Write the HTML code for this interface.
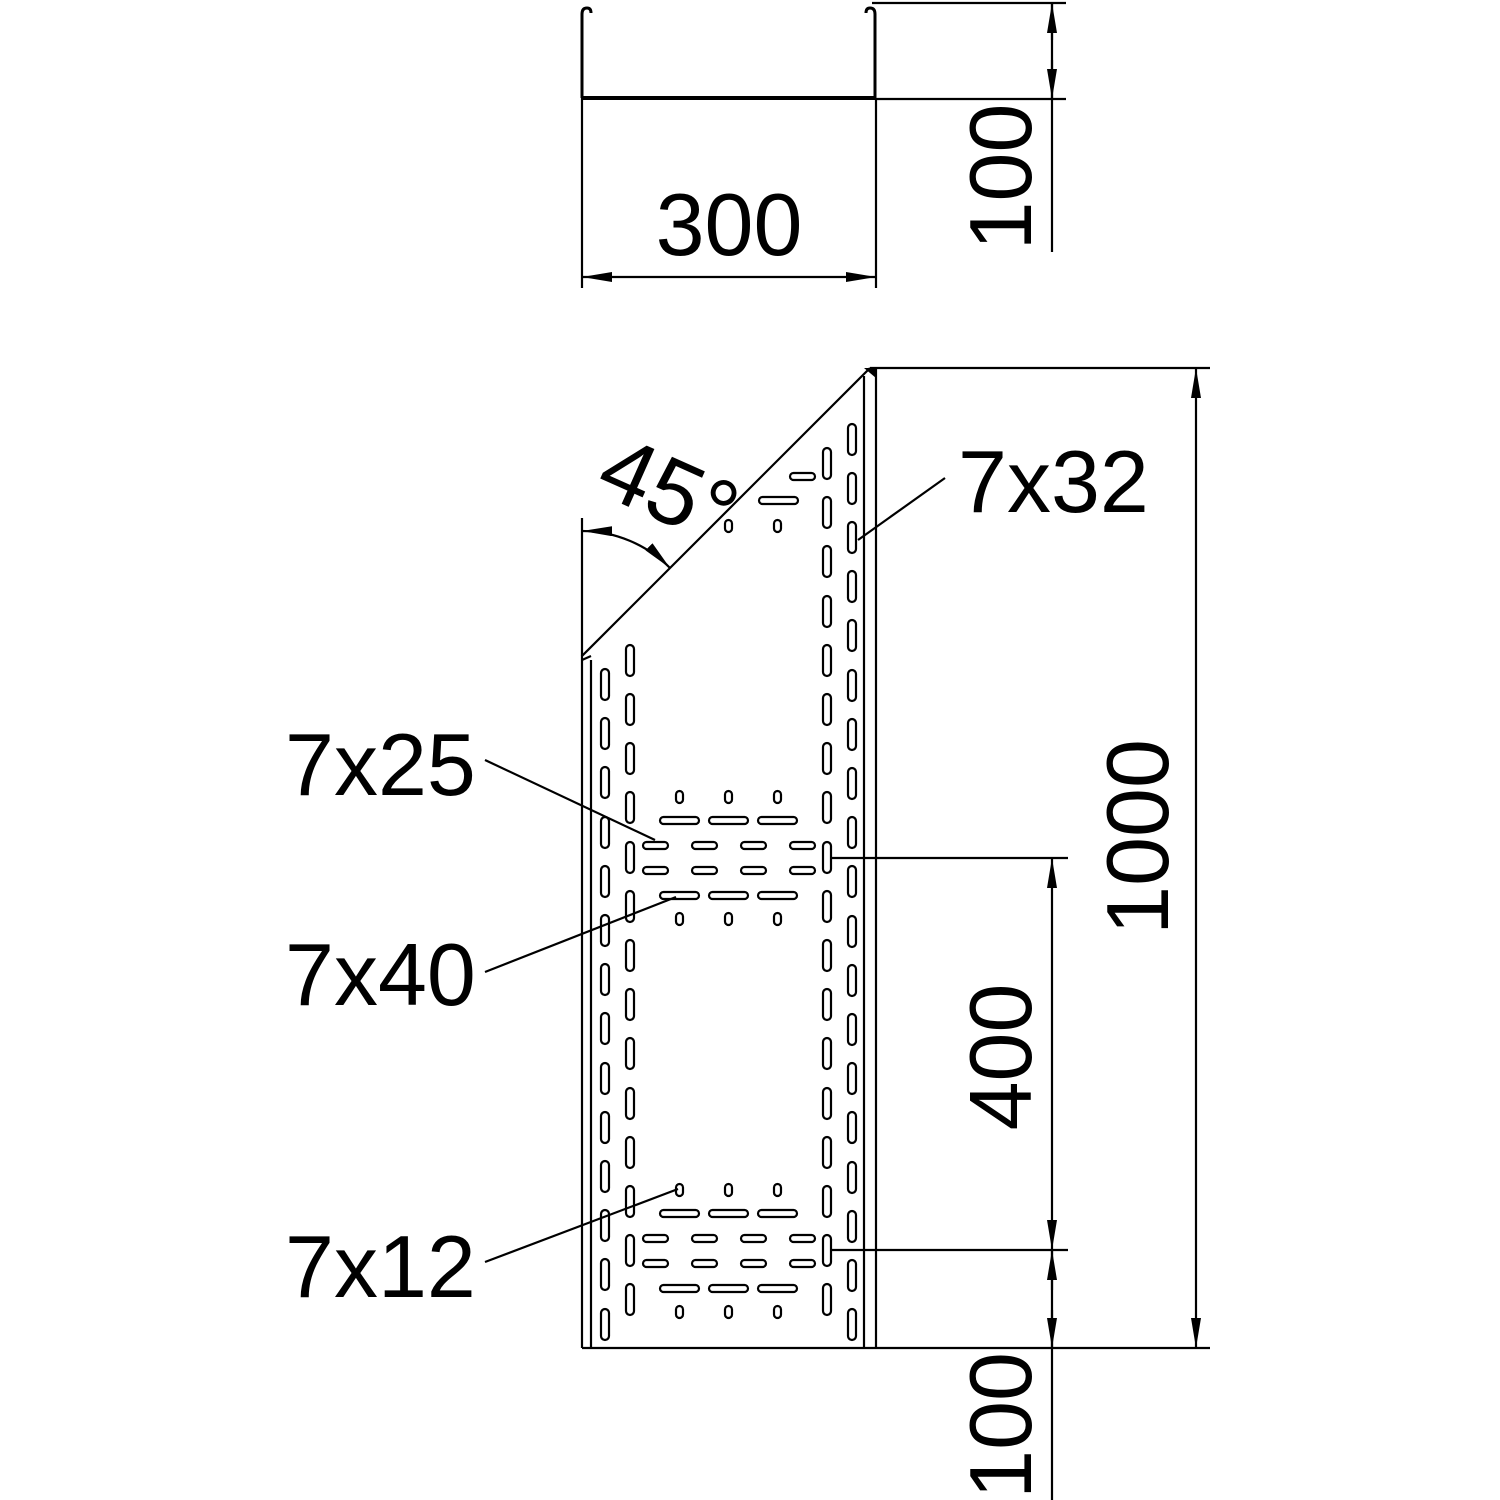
<!DOCTYPE html>
<html><head><meta charset="utf-8"><style>html,body{margin:0;padding:0;background:#fff}svg{display:block}</style></head>
<body>
<svg width="1500" height="1500" viewBox="0 0 1500 1500" xmlns="http://www.w3.org/2000/svg" font-family="Liberation Sans, sans-serif" font-size="88">
<defs>
<marker id="a" viewBox="0 0 30 10" refX="30" refY="5" markerWidth="30" markerHeight="10" markerUnits="userSpaceOnUse" orient="auto-start-reverse"><path d="M0,0 L30,5 L0,10 Z" fill="#000"/></marker>
<g id="grp">
<rect x="676" y="-67" width="7" height="12" rx="3.5"/><rect x="725" y="-67" width="7" height="12" rx="3.5"/><rect x="774" y="-67" width="7" height="12" rx="3.5"/>
<rect x="660" y="-41" width="39" height="7" rx="3.5"/><rect x="709" y="-41" width="39" height="7" rx="3.5"/><rect x="758" y="-41" width="39" height="7" rx="3.5"/>
<rect x="643" y="-16" width="25" height="7" rx="3.5"/><rect x="692" y="-16" width="25" height="7" rx="3.5"/><rect x="741" y="-16" width="25" height="7" rx="3.5"/><rect x="790" y="-16" width="25" height="7" rx="3.5"/>
<rect x="643" y="9" width="25" height="7" rx="3.5"/><rect x="692" y="9" width="25" height="7" rx="3.5"/><rect x="741" y="9" width="25" height="7" rx="3.5"/><rect x="790" y="9" width="25" height="7" rx="3.5"/>
<rect x="660" y="34" width="39" height="7" rx="3.5"/><rect x="709" y="34" width="39" height="7" rx="3.5"/><rect x="758" y="34" width="39" height="7" rx="3.5"/>
<rect x="676" y="55" width="7" height="12" rx="3.5"/><rect x="725" y="55" width="7" height="12" rx="3.5"/><rect x="774" y="55" width="7" height="12" rx="3.5"/>
</g>
</defs>
<g fill="none" stroke="#000" stroke-width="2.2">
<path d="M582,98 V14 Q582,8 587,8 Q591,8 591,13" stroke-width="3"/>
<path d="M875,98 V14 Q875,8 870,8 Q866,8 866,13" stroke-width="3"/>
<line x1="582" y1="98" x2="876" y2="98" stroke-width="4"/>
<line x1="582" y1="98" x2="582" y2="288"/>
<line x1="876" y1="98" x2="876" y2="288"/>
<line x1="582" y1="277" x2="876" y2="277" marker-start="url(#a)" marker-end="url(#a)"/>
<line x1="872" y1="3" x2="1066" y2="3"/>
<line x1="876" y1="99" x2="1066" y2="99"/>
<line x1="1052" y1="3" x2="1052" y2="252"/>
<line x1="1052" y1="40" x2="1052" y2="3" marker-end="url(#a)"/>
<line x1="1052" y1="60" x2="1052" y2="99" marker-end="url(#a)"/>

<polyline points="582,1348 582,656 870,368"/>
<line x1="591" y1="660" x2="591" y2="1348"/>
<line x1="582" y1="660" x2="591" y2="656"/>
<line x1="864" y1="376" x2="864" y2="1348"/>
<line x1="876" y1="368" x2="876" y2="1348"/>
<line x1="870" y1="368" x2="1210" y2="368"/>
<line x1="582" y1="1348" x2="1210" y2="1348"/>
<line x1="582" y1="518" x2="582" y2="656"/>
<path d="M582,531 A125,125 0 0 1 670,568" marker-start="url(#a)" marker-end="url(#a)"/>
<line x1="1196" y1="368" x2="1196" y2="1348" marker-start="url(#a)" marker-end="url(#a)"/>
<line x1="830" y1="858" x2="1068" y2="858"/>
<line x1="830" y1="1250" x2="1068" y2="1250"/>
<line x1="1052" y1="858" x2="1052" y2="1250" marker-start="url(#a)" marker-end="url(#a)"/>
<line x1="1052" y1="1250" x2="1052" y2="1500"/>
<line x1="1052" y1="1290" x2="1052" y2="1250" marker-end="url(#a)"/>
<line x1="1052" y1="1310" x2="1052" y2="1348" marker-end="url(#a)"/>
<line x1="945" y1="478" x2="858" y2="540"/>
<line x1="485" y1="760" x2="655" y2="840"/>
<line x1="485" y1="972" x2="676" y2="897"/>
<line x1="485" y1="1262" x2="678" y2="1189"/>
</g>
<path d="M864,368 L876,368 L876,378 Z" fill="#000"/>

<g fill="none" stroke="#000" stroke-width="2.2">
<g>
<rect x="601" y="669" width="8" height="31" rx="4"/><rect x="601" y="718" width="8" height="31" rx="4"/><rect x="601" y="767" width="8" height="31" rx="4"/><rect x="601" y="817" width="8" height="31" rx="4"/><rect x="601" y="866" width="8" height="31" rx="4"/><rect x="601" y="915" width="8" height="31" rx="4"/><rect x="601" y="964" width="8" height="31" rx="4"/><rect x="601" y="1013" width="8" height="31" rx="4"/><rect x="601" y="1063" width="8" height="31" rx="4"/><rect x="601" y="1112" width="8" height="31" rx="4"/><rect x="601" y="1161" width="8" height="31" rx="4"/><rect x="601" y="1210" width="8" height="31" rx="4"/><rect x="601" y="1259" width="8" height="31" rx="4"/><rect x="601" y="1309" width="8" height="31" rx="4"/>
</g>
<g>
<rect x="626" y="645" width="8" height="31" rx="4"/><rect x="626" y="694" width="8" height="31" rx="4"/><rect x="626" y="743" width="8" height="31" rx="4"/><rect x="626" y="792" width="8" height="31" rx="4"/><rect x="626" y="842" width="8" height="31" rx="4"/><rect x="626" y="891" width="8" height="31" rx="4"/><rect x="626" y="940" width="8" height="31" rx="4"/><rect x="626" y="989" width="8" height="31" rx="4"/><rect x="626" y="1038" width="8" height="31" rx="4"/><rect x="626" y="1088" width="8" height="31" rx="4"/><rect x="626" y="1137" width="8" height="31" rx="4"/><rect x="626" y="1186" width="8" height="31" rx="4"/><rect x="626" y="1235" width="8" height="31" rx="4"/><rect x="626" y="1284" width="8" height="31" rx="4"/>
</g>
<g>
<rect x="823" y="448" width="8" height="31" rx="4"/><rect x="823" y="497" width="8" height="31" rx="4"/><rect x="823" y="546" width="8" height="31" rx="4"/><rect x="823" y="596" width="8" height="31" rx="4"/><rect x="823" y="645" width="8" height="31" rx="4"/><rect x="823" y="694" width="8" height="31" rx="4"/><rect x="823" y="743" width="8" height="31" rx="4"/><rect x="823" y="792" width="8" height="31" rx="4"/><rect x="823" y="842" width="8" height="31" rx="4"/><rect x="823" y="891" width="8" height="31" rx="4"/><rect x="823" y="940" width="8" height="31" rx="4"/><rect x="823" y="989" width="8" height="31" rx="4"/><rect x="823" y="1038" width="8" height="31" rx="4"/><rect x="823" y="1088" width="8" height="31" rx="4"/><rect x="823" y="1137" width="8" height="31" rx="4"/><rect x="823" y="1186" width="8" height="31" rx="4"/><rect x="823" y="1235" width="8" height="31" rx="4"/><rect x="823" y="1284" width="8" height="31" rx="4"/>
</g>
<g>
<rect x="848" y="424" width="8" height="31" rx="4"/><rect x="848" y="473" width="8" height="31" rx="4"/><rect x="848" y="522" width="8" height="31" rx="4"/><rect x="848" y="571" width="8" height="31" rx="4"/><rect x="848" y="620" width="8" height="31" rx="4"/><rect x="848" y="670" width="8" height="31" rx="4"/><rect x="848" y="719" width="8" height="31" rx="4"/><rect x="848" y="768" width="8" height="31" rx="4"/><rect x="848" y="817" width="8" height="31" rx="4"/><rect x="848" y="866" width="8" height="31" rx="4"/><rect x="848" y="916" width="8" height="31" rx="4"/><rect x="848" y="965" width="8" height="31" rx="4"/><rect x="848" y="1014" width="8" height="31" rx="4"/><rect x="848" y="1063" width="8" height="31" rx="4"/><rect x="848" y="1112" width="8" height="31" rx="4"/><rect x="848" y="1162" width="8" height="31" rx="4"/><rect x="848" y="1211" width="8" height="31" rx="4"/><rect x="848" y="1260" width="8" height="31" rx="4"/><rect x="848" y="1309" width="8" height="31" rx="4"/>
</g>
<use href="#grp" transform="translate(0,858)"/>
<use href="#grp" transform="translate(0,1251)"/>
<rect x="725" y="520" width="7" height="12" rx="3.5"/><rect x="774" y="520" width="7" height="12" rx="3.5"/>
<rect x="759" y="497" width="39" height="7" rx="3.5"/>
<rect x="790" y="473" width="25" height="7" rx="3.5"/>
</g>

<g fill="#000">
<text x="729" y="255" text-anchor="middle">300</text>
<text transform="translate(1031,177) rotate(-90)" text-anchor="middle">100</text>
<text transform="translate(1168,837) rotate(-90)" text-anchor="middle">1000</text>
<text transform="translate(1031,1057) rotate(-90)" text-anchor="middle">400</text>
<text transform="translate(1031,1352) rotate(-90)" text-anchor="end">100</text>
<text x="958" y="512">7x32</text>
<text x="285" y="795">7x25</text>
<text x="285" y="1005">7x40</text>
<text x="285" y="1297">7x12</text>
<text transform="translate(656,519) rotate(24)" text-anchor="middle" font-size="92">45°</text>
</g>
</svg>
</body></html>
